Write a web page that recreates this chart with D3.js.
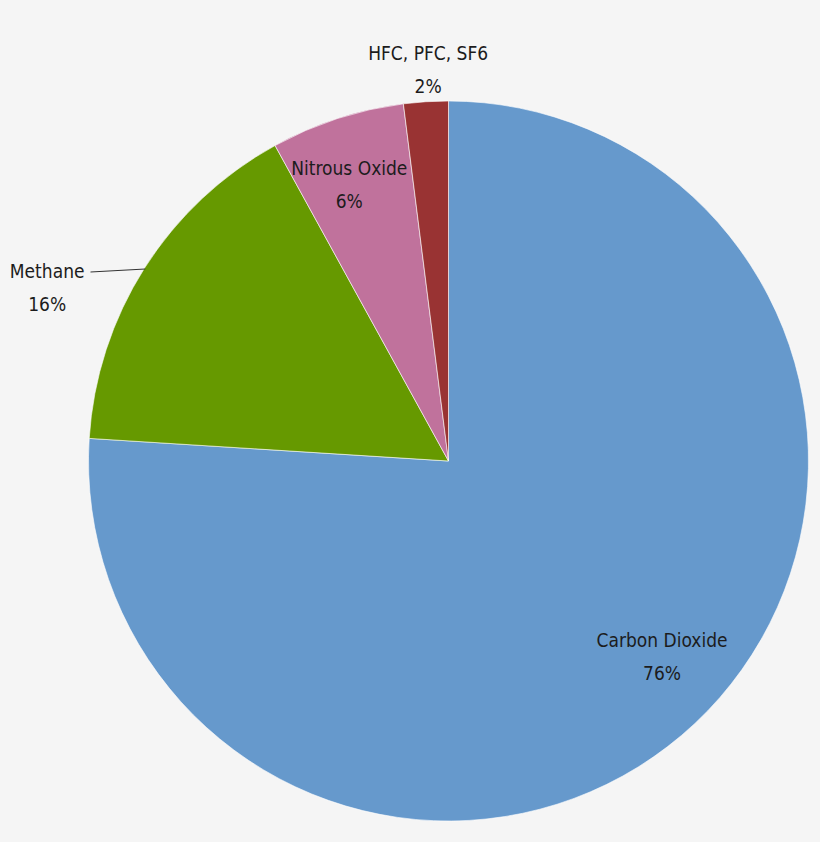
<!DOCTYPE html>
<html>
<head>
<meta charset="utf-8">
<script src="https://cdn.jsdelivr.net/npm/d3@7"></script>
<style>
  body { margin: 0; background: #f5f5f5; }
  svg { display: block; }
  text { font-family: "DejaVu Sans Condensed", "DejaVu Sans", sans-serif; font-stretch: condensed; font-size: 19px; fill: #1c1c1c; }
</style>
</head>
<body>
<div id="chart"></div>
<script>
// Data
var gases = ['Carbon Dioxide', 'Methane', 'Nitrous Oxide', 'HFC, PFC, SF6'];
var shares = [76, 16, 6, 2];
var colors = ['#6699cc', '#669900', '#c0729c', '#993333'];

var width = 820, height = 842;
var cx = 448.5, cy = 461, radius = 360;

// Label placement: [radius, angle in degrees clockwise from 12 o'clock]
var labelPos = [[292, 133], [436, 293], [290, 340], [389, 357]];

var svg = d3.select('#chart').append('svg')
    .attr('width', width)
    .attr('height', height);

var g = svg.append('g').attr('transform', 'translate(' + cx + ',' + cy + ')');

var pie = d3.pie().sort(null).value(function(d){ return d; });
var arc = d3.arc().innerRadius(0).outerRadius(radius);
var arcs = pie(shares);

g.selectAll('path.slice')
    .data(arcs)
  .enter().append('path')
    .attr('class', 'slice')
    .attr('d', arc)
    .attr('fill', function(d, i){ return colors[i]; })
    .attr('stroke', '#ffffff')
    .attr('stroke-width', 0.6);

function polar(r, deg){
  var a = deg * Math.PI / 180;
  return [r * Math.sin(a), -r * Math.cos(a)];
}

// Leader line for Methane
var lineStart = [-358, -189];
var lineEnd = polar(radius + 1, 302.5 - 1);
g.append('path')
    .attr('d', d3.line()([lineStart, [lineEnd[0] * 0.985, -192]]))
    .attr('stroke', '#333')
    .attr('stroke-width', 1)
    .attr('fill', 'none');

var labels = g.selectAll('text.label')
    .data(arcs)
  .enter().append('text')
    .attr('class', 'label')
    .attr('text-anchor', 'middle')
    .attr('transform', function(d, i){
      var p = polar(labelPos[i][0], labelPos[i][1]);
      return 'translate(' + p[0] + ',' + p[1] + ')';
    });

labels.append('tspan')
    .attr('x', 0)
    .attr('y', -13)
    .text(function(d, i){ return gases[i]; });

labels.append('tspan')
    .attr('x', 0)
    .attr('y', 20)
    .text(function(d, i){ return shares[i] + '%'; });
</script>
</body>
</html>
